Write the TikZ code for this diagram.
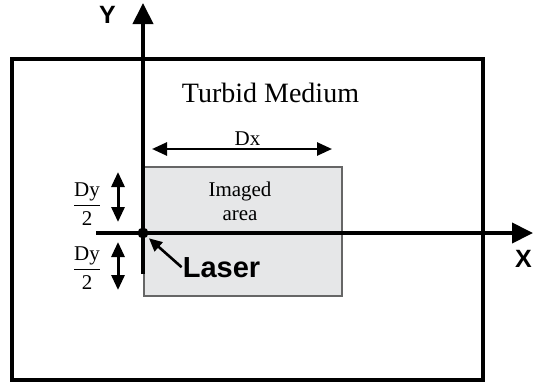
\documentclass[tikz,border=0pt]{standalone}
\usepackage{amsmath}
\usepackage{fontspec}
\setmainfont{Liberation Serif}
\setsansfont{Liberation Sans}
\usetikzlibrary{arrows.meta}
\definecolor{imgray}{RGB}{230,231,232}

\begin{document}
\begin{tikzpicture}[x=1pt,y=-1pt,>={Triangle[length=15pt,width=13pt]},
  lab/.style={font=\fontsize{21}{24}\selectfont,align=center,inner sep=1pt},
  sflab/.style={font=\sffamily\bfseries\fontsize{25}{28}\selectfont,inner sep=1pt},
  axis/.style={-{Triangle[length=21pt,width=20pt]},line width=4pt},
  vec/.style={<->,line width=2.6pt}]
  \useasboundingbox (0,0) rectangle (533,386);
  % ---------------- medium and imaged area ----------------
  \draw[line width=4pt] (12,59) rectangle (483,380);
  \node[lab,font=\fontsize{28}{30}\selectfont,anchor=base] (med) at (270.5,102) {Turbid Medium};
  \draw[draw=black!60,fill=imgray,line width=1.3pt] (144,167) rectangle (342,296);
  \node[lab] (img) at (240,201) {Imaged\\area};
  % width of the imaged area
  \coordinate (dxl) at (152,149);
  \coordinate (dxr) at (332,149);
  \draw[vec] (dxl) -- (dxr);
  \node[lab,anchor=base] (dx) at (247.5,145) {Dx};
  % ---------------- axes ----------------
  \coordinate (O) at (143,233);
  \coordinate (xs) at (96,233);
  \coordinate (xe) at (533,233);
  \coordinate (ys) at (143,274);
  \coordinate (ye) at (143,3);
  \draw[axis] (xs) -- (xe);
  \draw[axis] (ys) -- (ye);
  \node[sflab,anchor=base] (ylab) at (107.5,23) {Y};
  \node[sflab,anchor=base] (xlab) at (523.5,267) {X};
  \fill (O) circle (5.5pt);
  % ---------------- half heights ----------------
  \coordinate (dyat) at (118,172);
  \coordinate (dyab) at (118,222);
  \coordinate (dybt) at (118,242);
  \coordinate (dybb) at (118,290);
  \draw[vec,line width=3pt] (dyat) -- (dyab);
  \draw[vec,line width=3pt] (dybt) -- (dybb);
  \node[lab] (dya) at (87,204) {$\dfrac{\text{Dy}}{\text{2}}$};
  \node[lab] (dyb) at (87,268) {$\dfrac{\text{Dy}}{\text{2}}$};
  % ---------------- source ----------------
  \node[sflab,font=\sffamily\bfseries\fontsize{29}{32}\selectfont,anchor=base] (laser) at (221.5,277) {Laser};
  \draw[->,>={Triangle[length=13pt,width=12pt]},line width=2.6pt,shorten >=8pt] (laser.west) -- (O);
\end{tikzpicture}
\end{document}
